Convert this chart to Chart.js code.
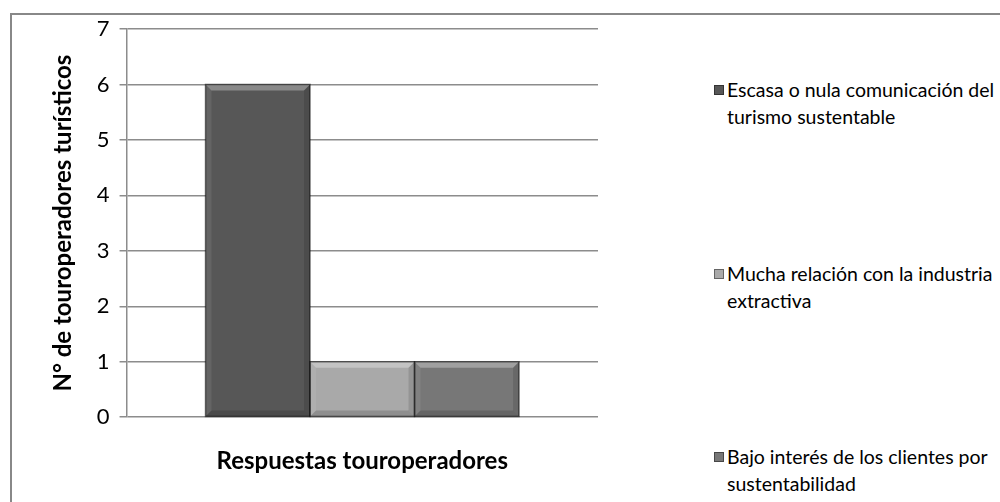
<!DOCTYPE html>
<html>
<head>
<meta charset="utf-8">
<script src="https://cdn.jsdelivr.net/npm/chart.js@4.4.0/dist/chart.umd.min.js"></script>
<style>
  body { margin: 0; background: #fff; }
  #frame { position: absolute; left: 10px; top: 13px; width: 1000px; height: 500px; border: 2px solid #888; box-sizing: border-box; }
  #wrap { position: absolute; left: 0; top: 0; width: 620px; height: 502px; }
  #legend { position: absolute; left: 714px; top: 0; width: 290px; font-family: Lato, "Open Sans", sans-serif; font-size: 19.5px; color: #000; }
  .item { position: absolute; left: 0; line-height: 27px; padding-left: 13px; white-space: nowrap; }
  .item i { position: absolute; left: 0; top: 9px; width: 10px; height: 10px; }
</style>
</head>
<body>
<div id="frame"></div>
<div id="wrap"><canvas id="chart"></canvas></div>
<div id="legend"></div>
<script>
// values
var categories = ['Respuestas touroperadores'];
var seriesNames = [
  ['Escasa o nula comunicación del', 'turismo sustentable'],
  ['Mucha relación con la industria', 'extractiva'],
  ['Bajo interés de los clientes por', 'sustentabilidad']
];
var seriesValues = [[6], [1], [1]];
var seriesColors = ['#575757', '#a9a9a9', '#777777'];
var legendTops = [76, 260, 443];

// fake the office "bevel" look on each bar
var bevel = {
  id: 'bevel',
  afterDatasetsDraw: function (chart) {
    var ctx = chart.ctx;
    chart.data.datasets.forEach(function (ds, i) {
      chart.getDatasetMeta(i).data.forEach(function (bar) {
        var l = bar.x - bar.width / 2, r = bar.x + bar.width / 2;
        var t = bar.y, b = bar.base, e = 6;
        ctx.save();
        ctx.fillStyle = 'rgba(255,255,255,0.3)';
        ctx.beginPath();
        ctx.moveTo(l, t); ctx.lineTo(r, t); ctx.lineTo(r - e, t + e); ctx.lineTo(l + e, t + e);
        ctx.closePath(); ctx.fill();
        ctx.fillStyle = 'rgba(255,255,255,0.08)';
        ctx.beginPath();
        ctx.moveTo(l, t); ctx.lineTo(l + e, t + e); ctx.lineTo(l + e, b - e); ctx.lineTo(l, b);
        ctx.closePath(); ctx.fill();
        ctx.fillStyle = 'rgba(0,0,0,0.12)';
        ctx.beginPath();
        ctx.moveTo(r, t); ctx.lineTo(r - e, t + e); ctx.lineTo(r - e, b - e); ctx.lineTo(r, b);
        ctx.closePath(); ctx.fill();
        ctx.fillStyle = 'rgba(0,0,0,0.15)';
        ctx.beginPath();
        ctx.moveTo(l, b); ctx.lineTo(l + e, b - e); ctx.lineTo(r - e, b - e); ctx.lineTo(r, b);
        ctx.closePath(); ctx.fill();
        ctx.strokeStyle = 'rgba(0,0,0,0.5)';
        ctx.lineWidth = 1.5;
        ctx.strokeRect(l, t, r - l, b - t);
        ctx.restore();
      });
    });
  }
};

var datasets = seriesNames.map(function (name, i) {
  return {
    label: name.join(' '),
    lines: name,
    data: seriesValues[i],
    backgroundColor: seriesColors[i],
    borderWidth: 0
  };
});

Chart.defaults.font.family = 'Lato, "Open Sans", sans-serif';
Chart.defaults.color = '#000';

var chart = new Chart(document.getElementById('chart'), {
  type: 'bar',
  data: { labels: categories, datasets: datasets },
  plugins: [bevel],
  options: {
    responsive: true,
    maintainAspectRatio: false,
    animation: false,
    layout: { padding: { left: 45, right: 22, top: 29, bottom: 22 } },
    plugins: {
      legend: { display: false },
      tooltip: { enabled: false }
    },
    datasets: { bar: { categoryPercentage: 0.665, barPercentage: 1 } },
    scales: {
      x: {
        grid: { display: false },
        border: { display: false },
        ticks: { display: false },
        title: {
          display: true,
          text: categories[0],
          font: { size: 24, weight: 'bold' },
          padding: { top: 22 }
        }
      },
      y: {
        min: 0,
        max: 7,
        ticks: { stepSize: 1, font: { size: 22 }, padding: 10 },
        grid: { color: '#8c8c8c', lineWidth: 1.5, tickLength: 7, tickColor: '#8c8c8c' },
        border: { display: true, color: '#8c8c8c', width: 1.5 },
        title: {
          display: true,
          text: 'N° de touroperadores turísticos',
          font: { size: 24, weight: 'bold' },
          padding: { bottom: 9 }
        }
      }
    }
  }
});

// html legend built from the datasets
var legend = document.getElementById('legend');
chart.data.datasets.forEach(function (ds, i) {
  var div = document.createElement('div');
  div.className = 'item';
  div.style.top = legendTops[i] + 'px';
  var sw = document.createElement('i');
  sw.style.background = ds.backgroundColor;
  sw.style.border = '1px solid rgba(0,0,0,0.4)';
  sw.style.boxSizing = 'border-box';
  div.appendChild(sw);
  ds.lines.forEach(function (line, j) {
    if (j > 0) div.appendChild(document.createElement('br'));
    div.appendChild(document.createTextNode(line));
  });
  legend.appendChild(div);
});
</script>
</body>
</html>
